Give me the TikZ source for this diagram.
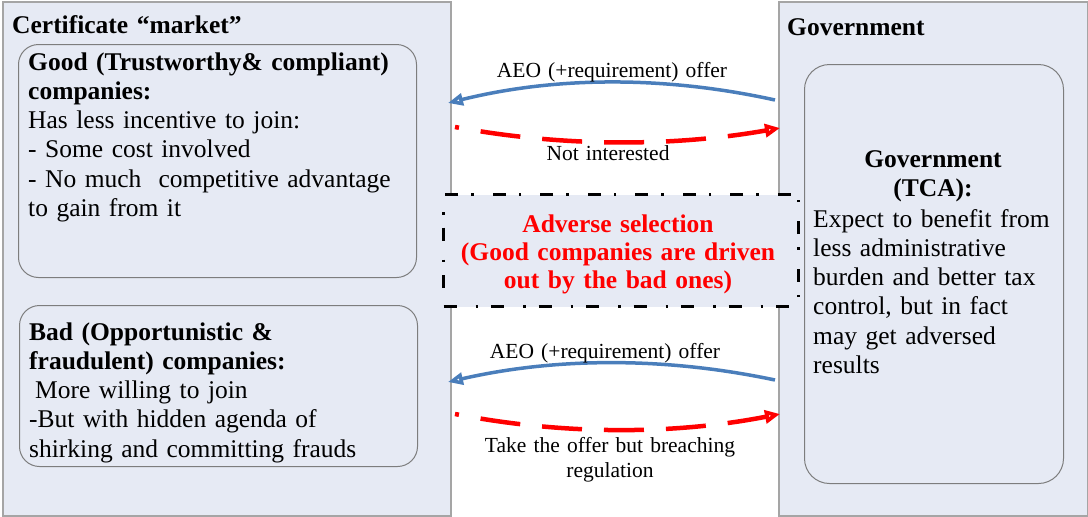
\documentclass[tikz,border=0pt]{standalone}
\usepackage{fontspec}
\setmainfont{Liberation Serif}
\usetikzlibrary{arrows.meta}
\definecolor{boxfill}{RGB}{230,234,244}
\definecolor{boxline}{RGB}{165,165,165}
\definecolor{cardline}{RGB}{125,125,125}
\definecolor{arrowblue}{RGB}{74,126,187}
\definecolor{advred}{RGB}{255,0,0}
\begin{document}
\begin{tikzpicture}[x=1pt,y=-1pt,
  panel/.style={draw=boxline, line width=1.5pt, fill=boxfill, anchor=north west, inner sep=0pt},
  card/.style={draw=cardline, line width=1pt, rounded corners=20pt, anchor=north west, inner sep=0pt},
  advbox/.style={draw=black, line width=3pt, fill=boxfill, anchor=north west, inner sep=0pt,
     dash pattern=on 13pt off 19pt on 2.5pt off 13pt},
  maintext/.style={inner sep=0pt, anchor=base west, align=left, text width=#1,
     font=\fontsize{25.5}{29.3}\selectfont},
  centertext/.style={inner sep=0pt, anchor=base, align=center, text width=#1,
     font=\fontsize{25.5}{29.3}\selectfont},
  arrowlabel/.style={inner sep=0pt, anchor=base, align=center, text width=330pt,
     font=\fontsize{21.5}{25}\selectfont},
  offer/.style={draw=arrowblue, line width=3.5pt,
     -{Triangle[open, length=15pt, width=12pt]}},
  reply/.style={draw=advred, line width=4.5pt, dash pattern=on 40pt off 22pt, dash phase=36pt,
     -{Triangle[open, length=15pt, width=13pt]}},
]
\useasboundingbox (0,0) rectangle (1088,517);
% panels
\node[panel, minimum width=448pt, minimum height=514pt] (market) at (2,1) {};
\node[panel, minimum width=309pt, minimum height=514pt] (gov) at (778,1) {};
% cards
\node[card, minimum width=398pt, minimum height=233pt] (good) at (18,44) {};
\node[card, minimum width=398pt, minimum height=161pt] (bad) at (19,305) {};
\node[card, rounded corners=25pt, minimum width=259pt, minimum height=419pt] (tca) at (804,64) {};
% connectors
\coordinate (gOfferA) at (775,100);
\coordinate (mOfferA) at (448,103);
\coordinate (mReplyA) at (455,127);
\coordinate (gReplyA) at (780,128);
\coordinate (gOfferB) at (775,380);
\coordinate (mOfferB) at (448,382);
\coordinate (mReplyB) at (455,414);
\coordinate (gReplyB) at (780,414);
\draw[offer] (gOfferA) .. controls (666,76) and (557,76) .. (mOfferA);
\draw[reply] (mReplyA) .. controls (563,147) and (672,147) .. (gReplyA);
\draw[offer] (gOfferB) .. controls (666,357) and (557,357) .. (mOfferB);
\draw[reply] (mReplyB) .. controls (563,435) and (672,435) .. (gReplyB);
% adverse selection box
\node[advbox, minimum width=355pt, minimum height=112pt] (adverse) at (442,193) {};
% texts
\node[maintext=420pt] (markettitle) at (12,33) {\bfseries Certificate “market”};
\node[maintext=300pt] (govtitle) at (787,35) {\bfseries Government};
\node[maintext=392pt] (goodtext) at (28,70) {\textbf{Good (Trustworthy\& compliant)}\\
  \textbf{companies:}\\
  Has less incentive to join:\\
  - Some cost involved\\
  - No much~ competitive advantage\\
  to gain from it};
\node[maintext=392pt] (badtext) at (29,340) {\textbf{Bad (Opportunistic \&}\\
  \textbf{fraudulent) companies:}\\
  \hspace*{6pt}More willing to join\\
  -But with hidden agenda of\\
  shirking and committing frauds};
\node[centertext=250pt] (tcatitle) at (933,167) {\textbf{Government}\\ \textbf{(TCA):}};
\node[maintext=245pt] (tcatext) at (813,227) {Expect to benefit from\\
  less administrative\\
  burden and better tax\\
  control, but in fact\\
  may get adversed\\
  results};
\node[centertext=350pt, text=advred, font=\fontsize{25.5}{28.3}\selectfont\bfseries] (advtext) at (618,232)
  {Adverse selection\\ (Good companies are driven\\ out by the bad ones)};
\node[arrowlabel] (offerlabelA) at (612,77) {AEO (+requirement) offer};
\node[arrowlabel] (replylabelA) at (608,160) {Not interested};
\node[arrowlabel] (offerlabelB) at (605,358) {AEO (+requirement) offer};
\node[arrowlabel] (replylabelB) at (610,452) {Take the offer but breaching\\ regulation};
\end{tikzpicture}
\end{document}
